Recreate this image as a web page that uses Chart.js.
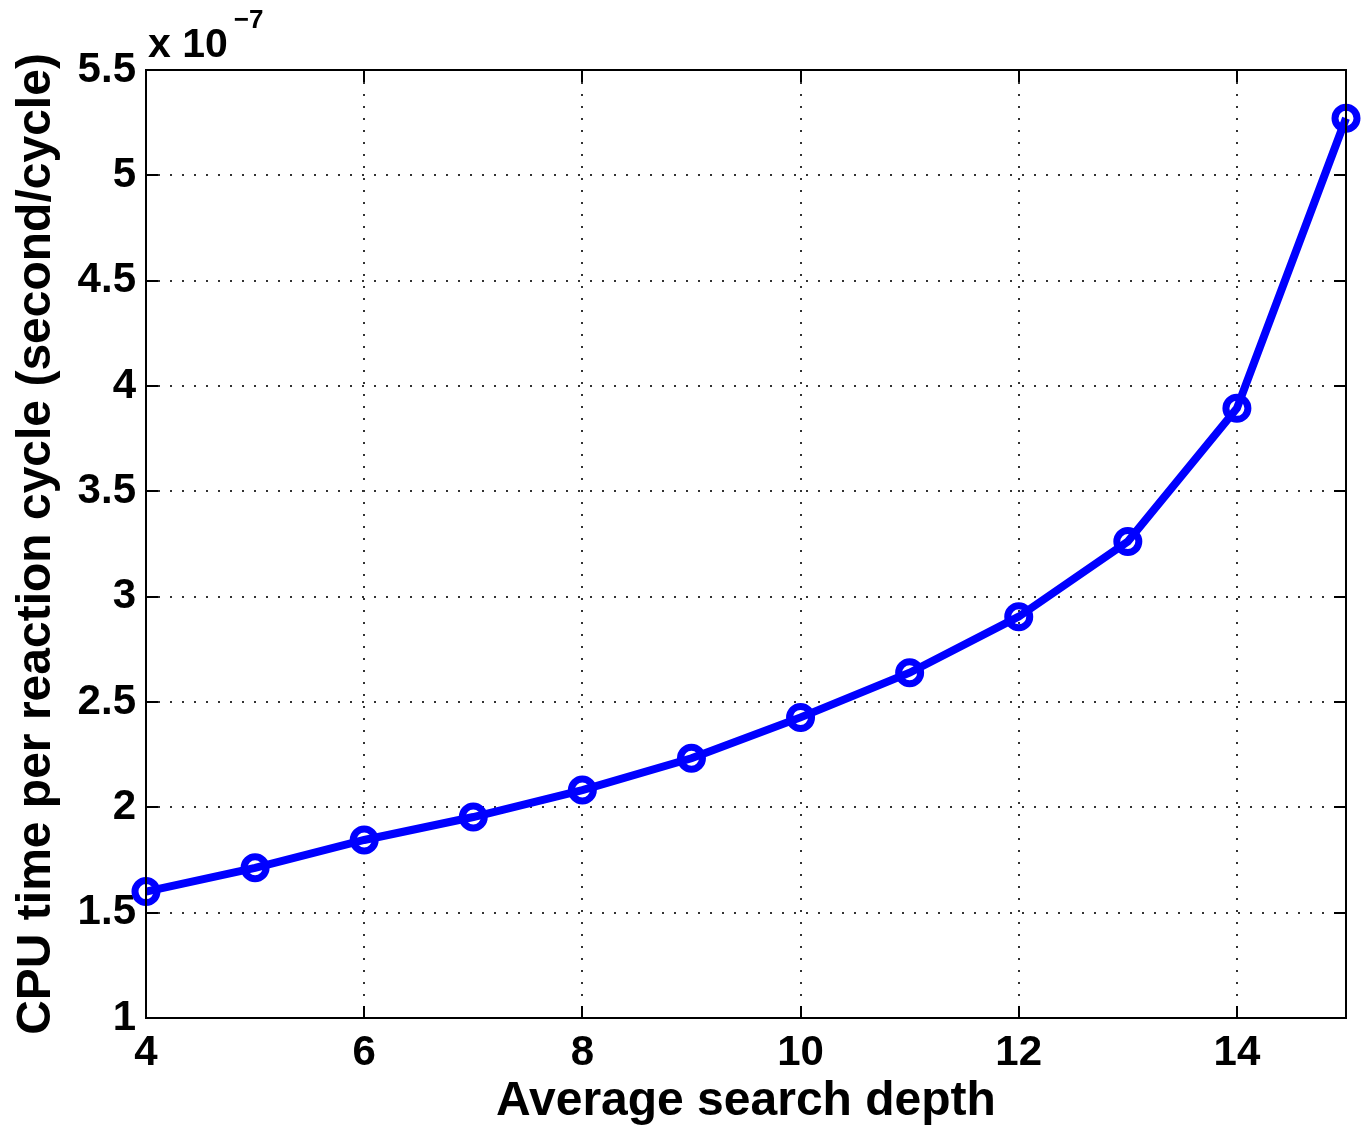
<!DOCTYPE html>
<html lang="en">
<head>
  <meta charset="UTF-8" />
  <title>CPU time vs search depth</title>
  <script src="https://cdn.jsdelivr.net/npm/chart.js"></script>
  <style>
    html, body { margin: 0; padding: 0; background: #fff; }
    #wrap { width: 1370px; height: 1131px; }
  </style>
</head>
<body>
  <div id="wrap"><canvas id="cpuChart" width="1370" height="1131"></canvas></div>

  <script>
    // average search depth vs CPU time per reaction cycle (units of 1e-7 s)
    const depths = [4, 5, 6, 7, 8, 9, 10, 11, 12, 13, 14, 15];
    const cpuTime = [1.600, 1.713, 1.845, 1.954, 2.082, 2.233, 2.427, 2.639, 2.905, 3.262, 3.894, 5.271];
    const xTicks = [4, 6, 8, 10, 12, 14];
    const yTicks = [1, 1.5, 2, 2.5, 3, 3.5, 4, 4.5, 5, 5.5];

    const FONT = '"Liberation Sans", Arial, Helvetica, sans-serif';

    // box around the plot, inward tick marks, and the x 10^-7 multiplier
    const frame = {
      id: 'frame',
      afterDraw(chart) {
        const { ctx, chartArea: a, scales } = chart;
        const len = 12;
        ctx.save();
        ctx.strokeStyle = '#000';
        ctx.lineWidth = 2;
        ctx.beginPath();
        yTicks.forEach(v => {
          const y = Math.round(scales.y.getPixelForValue(v));
          ctx.moveTo(a.left, y); ctx.lineTo(a.left + len, y);
          ctx.moveTo(a.right, y); ctx.lineTo(a.right - len, y);
        });
        xTicks.forEach(v => {
          const x = Math.round(scales.x.getPixelForValue(v));
          ctx.moveTo(x, a.bottom); ctx.lineTo(x, a.bottom - len);
          ctx.moveTo(x, a.top); ctx.lineTo(x, a.top + len);
        });
        ctx.stroke();
        ctx.strokeRect(a.left, a.top, a.right - a.left, a.bottom - a.top);

        ctx.fillStyle = '#000';
        ctx.textBaseline = 'alphabetic';
        ctx.font = 'bold 41px ' + FONT;
        ctx.fillText('x 10', a.left + 2, a.top - 13);
        const w = ctx.measureText('x 10').width;
        ctx.font = 'bold 26px ' + FONT;
        ctx.fillText('\u22127', a.left + 8 + w, a.top - 42);
        ctx.restore();
      }
    };

    new Chart(document.getElementById('cpuChart'), {
      type: 'line',
      data: {
        labels: depths,
        datasets: [{
          data: depths.map((d, i) => ({ x: d, y: cpuTime[i] })),
          borderColor: '#0000ff',
          borderWidth: 8,
          pointRadius: 11,
          pointBorderWidth: 7,
          pointBorderColor: '#0000ff',
          pointBackgroundColor: 'rgba(0,0,0,0)',
          pointHoverRadius: 11,
          tension: 0,
          clip: false
        }]
      },
      options: {
        responsive: false,
        animation: false,
        layout: { padding: { top: 70, right: 24, left: 0, bottom: 0 } },
        plugins: { legend: { display: false }, tooltip: { enabled: false } },
        scales: {
          x: {
            type: 'linear',
            min: 4,
            max: 15,
            afterBuildTicks: s => { s.ticks = xTicks.map(v => ({ value: v })); },
            afterFit: s => { s.height = 113; },
            grid: { color: '#333', lineWidth: 2, drawTicks: false },
            border: { display: false, dash: [2, 10] },
            ticks: {
              color: '#000',
              padding: 10,
              maxRotation: 0,
              font: { family: FONT, size: 42, weight: 'bold' }
            },
            title: {
              display: true,
              text: 'Average search depth',
              color: '#000',
              padding: { top: 0, bottom: 0 },
              font: { family: FONT, size: 48, weight: 'bold' }
            }
          },
          y: {
            min: 1,
            max: 5.5,
            afterBuildTicks: s => { s.ticks = yTicks.map(v => ({ value: v })); },
            afterFit: s => { s.width = 146; },
            grid: { color: '#333', lineWidth: 2, drawTicks: false },
            border: { display: false, dash: [2, 10] },
            ticks: {
              color: '#000',
              padding: 10,
              callback: v => String(v),
              font: { family: FONT, size: 42, weight: 'bold' }
            },
            title: {
              display: true,
              text: 'CPU time per reaction cycle (second/cycle)',
              color: '#000',
              padding: { top: 8, bottom: 0 },
              font: { family: FONT, size: 48, weight: 'bold' }
            }
          }
        }
      },
      plugins: [frame]
    });
  </script>
</body>
</html>
